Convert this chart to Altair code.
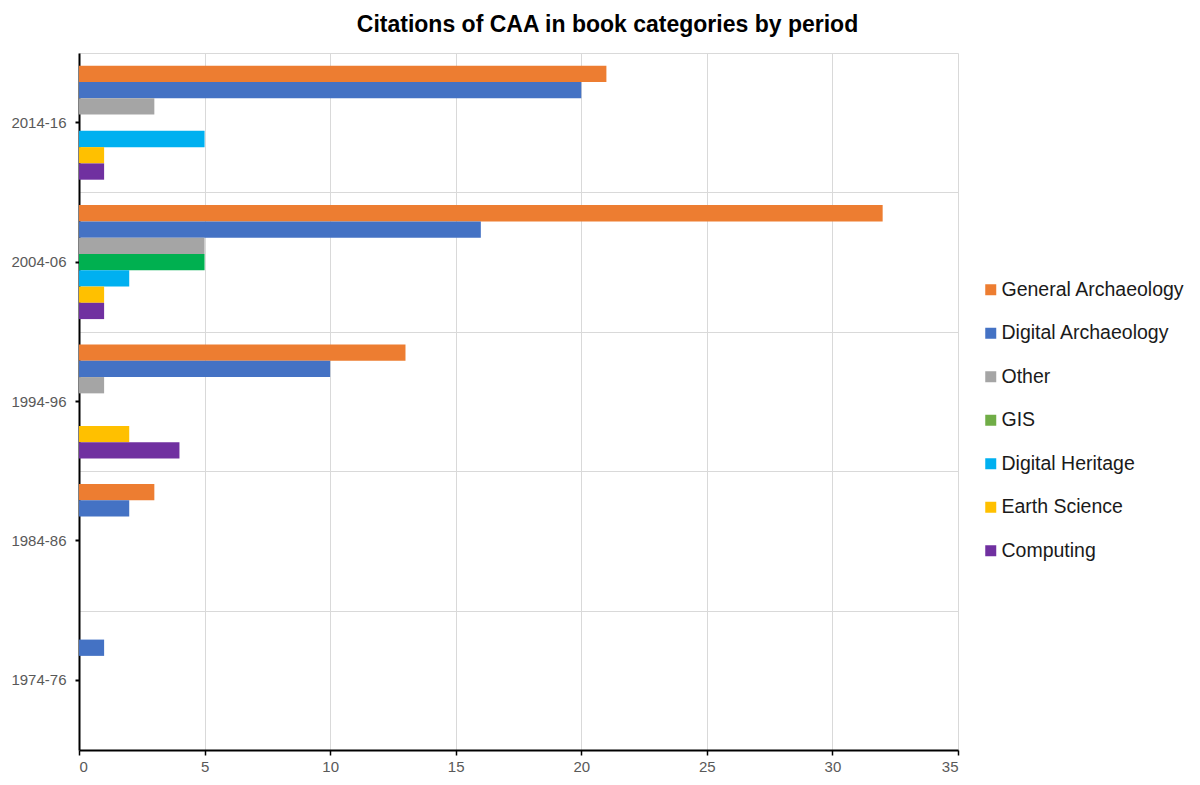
import altair as alt
import pandas as pd

periods = ["2014-16", "2004-06", "1994-96", "1984-86", "1974-76"]
categories = ["General Archaeology", "Digital Archaeology", "Other", "GIS",
              "Digital Heritage", "Earth Science", "Computing"]

general_archaeology = [21, 32, 13, 3, 0]
digital_archaeology = [20, 16, 10, 2, 1]
other = [3, 5, 1, 0, 0]
gis = [0, 5, 0, 0, 0]
digital_heritage = [5, 2, 0, 0, 0]
earth_science = [1, 1, 2, 0, 0]
computing = [1, 1, 4, 0, 0]

bar_colors = ["#ED7D31", "#4472C4", "#A5A5A5", "#00B050", "#00B0F0", "#FFC000", "#7030A0"]
legend_colors = ["#ED7D31", "#4472C4", "#A5A5A5", "#70AD47", "#00B0F0", "#FFC000", "#7030A0"]

series = [general_archaeology, digital_archaeology, other, gis,
          digital_heritage, earth_science, computing]
rows = []
for cat, vals in zip(categories, series):
    for p, v in zip(periods, vals):
        rows.append({"period": p, "category": cat, "value": v})
df = pd.DataFrame(rows)

FONT = "Liberation Sans"

yscale = alt.Scale(domain=periods, paddingInner=0, paddingOuter=0)

bars = alt.Chart(df).mark_bar().encode(
    x=alt.X("value:Q", scale=alt.Scale(domain=[0, 35], nice=False),
            axis=alt.Axis(values=[0, 5, 10, 15, 20, 25, 30, 35], title=None,
                          grid=True, gridColor="#D9D9D9", gridWidth=1,
                          domainColor="#000000", domainWidth=2,
                          tickColor="#000000", tickSize=5, tickWidth=1.5,
                          labelColor="#595959", labelFontSize=15, labelFont=FONT,
                          labelPadding=4)),
    y=alt.Y("period:N", scale=yscale, sort=periods,
            axis=alt.Axis(title=None, grid=False, domainColor="#000000", domainWidth=2,
                          tickColor="#000000", tickSize=4, tickWidth=2,
                          labelColor="#595959", labelFontSize=15, labelFont=FONT,
                          labelPadding=9, orient="left")),
    yOffset=alt.YOffset("category:N", sort=categories,
                        scale=alt.Scale(domain=categories, paddingInner=0, paddingOuter=0.78)),
    color=alt.Color("category:N", sort=categories,
                    scale=alt.Scale(domain=categories, range=bar_colors), legend=None),
)

legend_layer = alt.Chart(df).mark_point(shape="square", filled=True, opacity=0).encode(
    x=alt.X("value:Q", scale=alt.Scale(domain=[0, 35], nice=False)),
    y=alt.Y("period:N", scale=yscale, sort=periods,
            axis=alt.Axis(title=None, grid=True, gridColor="#D9D9D9", gridWidth=1,
                          tickBand="extent", labels=False, ticks=False, domain=False,
                          orient="left")),
    fill=alt.Fill("category:N", sort=categories,
                  scale=alt.Scale(domain=categories, range=legend_colors),
                  legend=alt.Legend(title=None, orient="none", legendX=902, legendY=227,
                                    symbolType="square", symbolSize=121, symbolOpacity=1,
                                    symbolStrokeWidth=0,
                                    labelFontSize=19.5, labelFont=FONT, labelColor="#1A1A1A",
                                    labelOffset=1, rowPadding=22.5, labelLimit=300)),
)

chart = alt.layer(legend_layer, bars).resolve_axis(y="independent").properties(
    width=879, height=697,
    padding={"left": 71, "top": 45, "right": 232, "bottom": 25},
    autosize=alt.AutoSizeParams(type="none"),
    title=alt.TitleParams("Citations of CAA in book categories by period",
                          font=FONT, fontSize=23, fontWeight="bold", color="#000000",
                          anchor="middle", dx=89, offset=16),
).configure_view(stroke=None)

chart.save("out.html", embed_options={"renderer": "svg", "actions": False})
